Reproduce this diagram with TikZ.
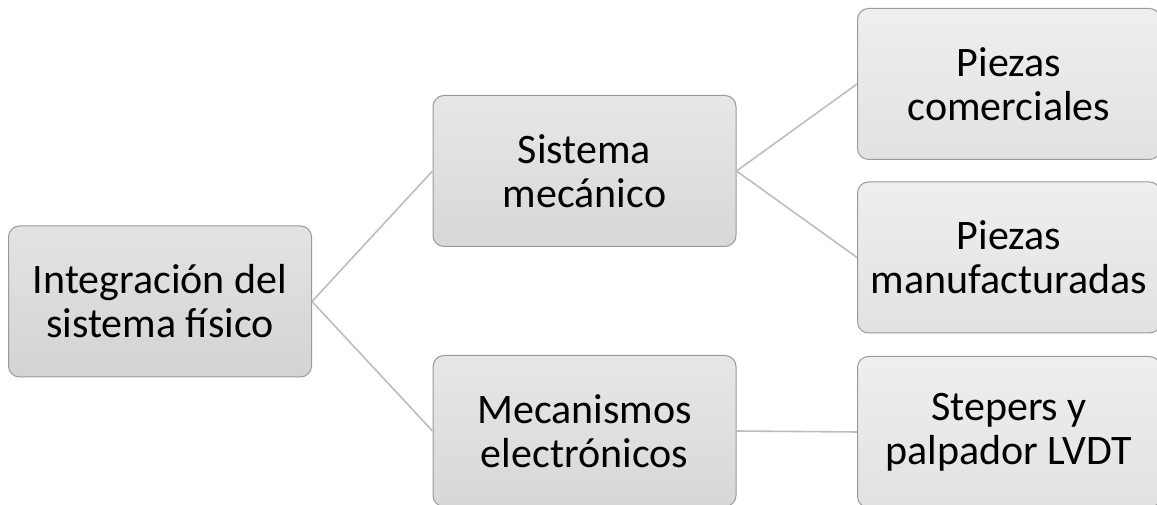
\documentclass[tikz,border=0pt]{standalone}
\usepackage{fontspec}
\setmainfont{Carlito}
\usepackage{tikz}
\definecolor{boxline}{HTML}{9A9A9A}
\definecolor{linkline}{HTML}{BDBDBD}
\tikzstyle{box}=[draw=boxline, line width=1pt, rounded corners=11pt, inner sep=0pt, minimum width=303pt, minimum height=151pt, align=center, font=\fontsize{42}{44}\selectfont]
\tikzstyle{rbox}=[box, top color=gray!22, bottom color=gray!34]
\tikzstyle{mbox}=[box, top color=gray!19, bottom color=gray!31]
\tikzstyle{lbox}=[box, top color=gray!13, bottom color=gray!23]
\tikzstyle{link}=[draw=linkline, line width=1.6pt]

\begin{document}
\begin{tikzpicture}[x=1pt, y=1pt]
        \useasboundingbox (0, 0) rectangle (1157, 505);
        \clip (0, 0) rectangle (1157, 505);
        \node[rbox] (I) at (160, 203.5) {Integración del\\sistema físico};
        \node[mbox] (SM) at (584.5, 334) {Sistema\\mecánico};
        \node[mbox] (ME) at (584.5, 74) {Mecanismos\\electrónicos};
        \node[lbox] (PC) at (1009, 421) {Piezas\\comerciales};
        \node[lbox] (PM) at (1009, 247.5) {Piezas\\manufacturadas};
        \node[lbox] (SP) at (1009, 73) {Stepers y\\palpador LVDT};
        \draw[link] (I.east) -- (SM.west);
        \draw[link] (I.east) -- (ME.west);
        \draw[link] (SM.east) -- (PC.west);
        \draw[link] (SM.east) -- (PM.west);
        \draw[link] (ME.east) -- (SP.west);
    \end{tikzpicture}
\end{document}
